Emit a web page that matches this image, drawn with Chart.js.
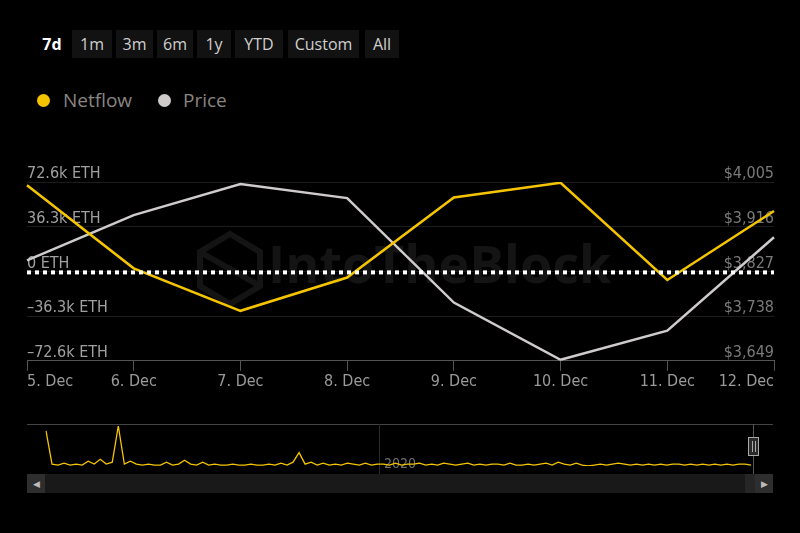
<!DOCTYPE html>
<html>
<head>
<meta charset="utf-8">
<script src="https://cdn.jsdelivr.net/npm/chart.js@4.4.1/dist/chart.umd.min.js"></script>
<style>
  html, body { margin:0; padding:0; background:#000; width:800px; height:533px; overflow:hidden; font-family:"Open Sans", sans-serif; }
  #wrap { position:relative; width:800px; height:533px; }
  .btn { position:absolute; top:30px; height:28px; line-height:28px; text-align:center; color:#cfcfcf; font-size:16px; background:#121212; }
  .btn.on { background:transparent; color:#fff; font-weight:bold; }
  .legend { position:absolute; top:87px; font-size:19px; color:#8a8580; }
  .dot { position:absolute; top:94px; width:13px; height:13px; border-radius:50%; }
  #main { position:absolute; left:0; top:0; }
  #nav { position:absolute; left:0; top:418px; }
  .bar { position:absolute; top:474px; height:19px; }
</style>
</head>
<body>
<div id="wrap">
  <div class="btn on" style="left:36px;width:32px">7d</div>
  <div class="btn" style="left:72px;width:40px">1m</div>
  <div class="btn" style="left:116px;width:37px">3m</div>
  <div class="btn" style="left:157px;width:36px">6m</div>
  <div class="btn" style="left:197px;width:34px">1y</div>
  <div class="btn" style="left:235px;width:48px">YTD</div>
  <div class="btn" style="left:288px;width:71px">Custom</div>
  <div class="btn" style="left:365px;width:34px">All</div>
  <div class="dot" style="left:37px;background:#f5c400"></div>
  <div class="legend" style="left:63px">Netflow</div>
  <div class="dot" style="left:158px;background:#cfcbcb"></div>
  <div class="legend" style="left:183px">Price</div>
  <canvas id="main" width="800" height="400"></canvas>
  <canvas id="nav" width="800" height="56"></canvas>
  <div class="bar" style="left:27px;width:746px;background:#191919"></div>
  <div class="bar" style="left:27px;width:18px;background:#2e2e2e;color:#bbb;font-size:9px;line-height:19px;text-align:center">&#9664;</div>
  <div class="bar" style="left:745px;width:10px;background:#262626"></div>
  <div class="bar" style="left:755px;width:18px;background:#2e2e2e;color:#bbb;font-size:9px;line-height:19px;text-align:center">&#9654;</div>
</div>
<script>
const days = ["5. Dec","6. Dec","7. Dec","8. Dec","9. Dec","10. Dec","11. Dec","12. Dec"]
// netflow in thousands of ETH
const netflow = [70, 2.5, -32, -5, 60, 72, -7, 49]
const price = [3849, 3939, 4001, 3973, 3765, 3651, 3709, 3895]
const netTicks = [72.6, 36.3, 0, -36.3, -72.6]
const priceTicks = [4005, 3916, 3827, 3738, 3649]
// navigator history (relative netflow size)
const history = [36,1,0,2,0,1,0,4,1,6,1,3,41,1,4,1,0,1,0,0,3,0,1,5,1,0,3,0,1,0,0,1,0,0,1,0,0,1,0,2,0,3,13,1,3,0,2,0,1,0,2,1,0,2,0,1,1,0,2,0,1,1,2,0,1,0,2,1,0,1,2,0,1,0,1,1,0,2,0,0,1,0,1,2,0,3,1,0,2,0,-1,0,1,0,1,2,1,0,1,0,1,0,1,0,1,1,0,1,0,1,0,1,0,1,0,1,1,0]

const condensed = "'DejaVu Sans Condensed', 'Open Sans', sans-serif"

const overlay = {
  id: 'overlay',
  beforeDatasetsDraw(chart){
    const ctx = chart.ctx
    ctx.save()
    ctx.fillStyle = '#141414'
    ctx.strokeStyle = '#141414'
    ctx.font = "bold 52px 'Open Sans', sans-serif"
    ctx.textBaseline = 'middle'
    ctx.fillText('IntoTheBlock', 268, 268)
    ctx.lineWidth = 6
    ctx.beginPath()
    ctx.moveTo(230, 234); ctx.lineTo(260, 252); ctx.lineTo(260, 286); ctx.lineTo(230, 304)
    ctx.lineTo(200, 286); ctx.lineTo(200, 252); ctx.closePath()
    ctx.moveTo(200, 252); ctx.lineTo(260, 286)
    ctx.stroke()
    ctx.restore()
  },
  afterDatasetsDraw(chart){
    const ctx = chart.ctx
    const y = chart.scales.y.getPixelForValue(0)
    const a = chart.chartArea
    ctx.save()
    ctx.strokeStyle = '#fff'
    ctx.lineWidth = 4
    ctx.setLineDash([4, 4])
    ctx.beginPath()
    ctx.moveTo(a.left, y + 1)
    ctx.lineTo(a.right, y + 1)
    ctx.stroke()
    ctx.restore()
  }
}

new Chart(document.getElementById('main'), {
  type: 'line',
  data: {
    labels: days,
    datasets: [
      { label: 'Netflow', data: netflow, yAxisID: 'y', borderColor: '#f5c400', borderWidth: 2.5, pointRadius: 0, tension: 0 },
      { label: 'Price', data: price, yAxisID: 'y1', borderColor: '#cfcbcb', borderWidth: 2.5, pointRadius: 0, tension: 0 }
    ]
  },
  options: {
    responsive: false,
    animation: false,
    layout: { padding: { left: 27, right: 26, top: 182, bottom: 8 } },
    plugins: { legend: { display: false }, tooltip: { enabled: false } },
    scales: {
      x: {
        offset: false,
        border: { color: '#555' },
        grid: { drawOnChartArea: false, drawTicks: true, tickLength: 10, color: '#555' },
        ticks: { align: 'inner', color: '#9a9a9a', font: { family: condensed, size: 16 }, maxRotation: 0, autoSkip: false, padding: 1 }
      },
      y: {
        position: 'left',
        min: -72.6, max: 72.6,
        afterBuildTicks: s => { s.ticks = netTicks.map(v => ({ value: v })) },
        border: { display: false },
        grid: { color: '#1c1c1c', drawTicks: false },
        ticks: { mirror: true, padding: 0, labelOffset: -8, color: '#a0a0a0', font: { family: condensed, size: 16 },
          callback: v => (v === 0 ? '0' : (v < 0 ? '\u2013' : '') + Math.abs(v) + 'k') + ' ETH' }
      },
      y1: {
        position: 'right',
        min: 3649, max: 4005,
        afterBuildTicks: s => { s.ticks = priceTicks.map(v => ({ value: v })) },
        border: { display: false },
        grid: { display: false, drawTicks: false },
        ticks: { mirror: true, padding: 0, labelOffset: -8, color: '#7a7a7a', font: { family: condensed, size: 16 },
          callback: v => '$' + v.toLocaleString('en-US') }
      }
    }
  },
  plugins: [overlay]
})

const navDeco = {
  id: 'navDeco',
  beforeDatasetsDraw(chart){
    const ctx = chart.ctx
    ctx.save()
    ctx.strokeStyle = '#444'
    ctx.lineWidth = 1
    ctx.beginPath(); ctx.moveTo(27, 6.5); ctx.lineTo(773, 6.5); ctx.stroke()
    ctx.strokeStyle = '#2a2a2a'
    ctx.beginPath(); ctx.moveTo(379.5, 6); ctx.lineTo(379.5, 56); ctx.stroke()
    ctx.fillStyle = '#6e6e6e'
    ctx.font = "14px " + condensed
    ctx.textBaseline = 'middle'
    ctx.fillText('2020', 384, 46)
    ctx.restore()
  },
  afterDatasetsDraw(chart){
    const ctx = chart.ctx
    ctx.save()
    ctx.strokeStyle = '#555'
    ctx.beginPath(); ctx.moveTo(753.5, 6); ctx.lineTo(753.5, 56); ctx.stroke()
    ctx.fillStyle = '#2a2a2a'
    ctx.strokeStyle = '#aaa'
    ctx.fillRect(748, 19, 11, 19)
    ctx.strokeRect(748.5, 19.5, 10, 18)
    ctx.beginPath(); ctx.moveTo(752.5, 23); ctx.lineTo(752.5, 34); ctx.moveTo(755.5, 23); ctx.lineTo(755.5, 34); ctx.stroke()
    ctx.restore()
  }
}

new Chart(document.getElementById('nav'), {
  type: 'line',
  data: {
    labels: history.map((v, i) => i),
    datasets: [{ data: history, borderColor: '#f5c400', borderWidth: 1.3, pointRadius: 0, tension: 0 }]
  },
  options: {
    responsive: false,
    animation: false,
    layout: { padding: { left: 46, right: 49, top: 8, bottom: 8 } },
    plugins: { legend: { display: false }, tooltip: { enabled: false } },
    scales: {
      x: { display: false, offset: false },
      y: { display: false, min: -1, max: 41 }
    }
  },
  plugins: [navDeco]
})
</script>
</body>
</html>
